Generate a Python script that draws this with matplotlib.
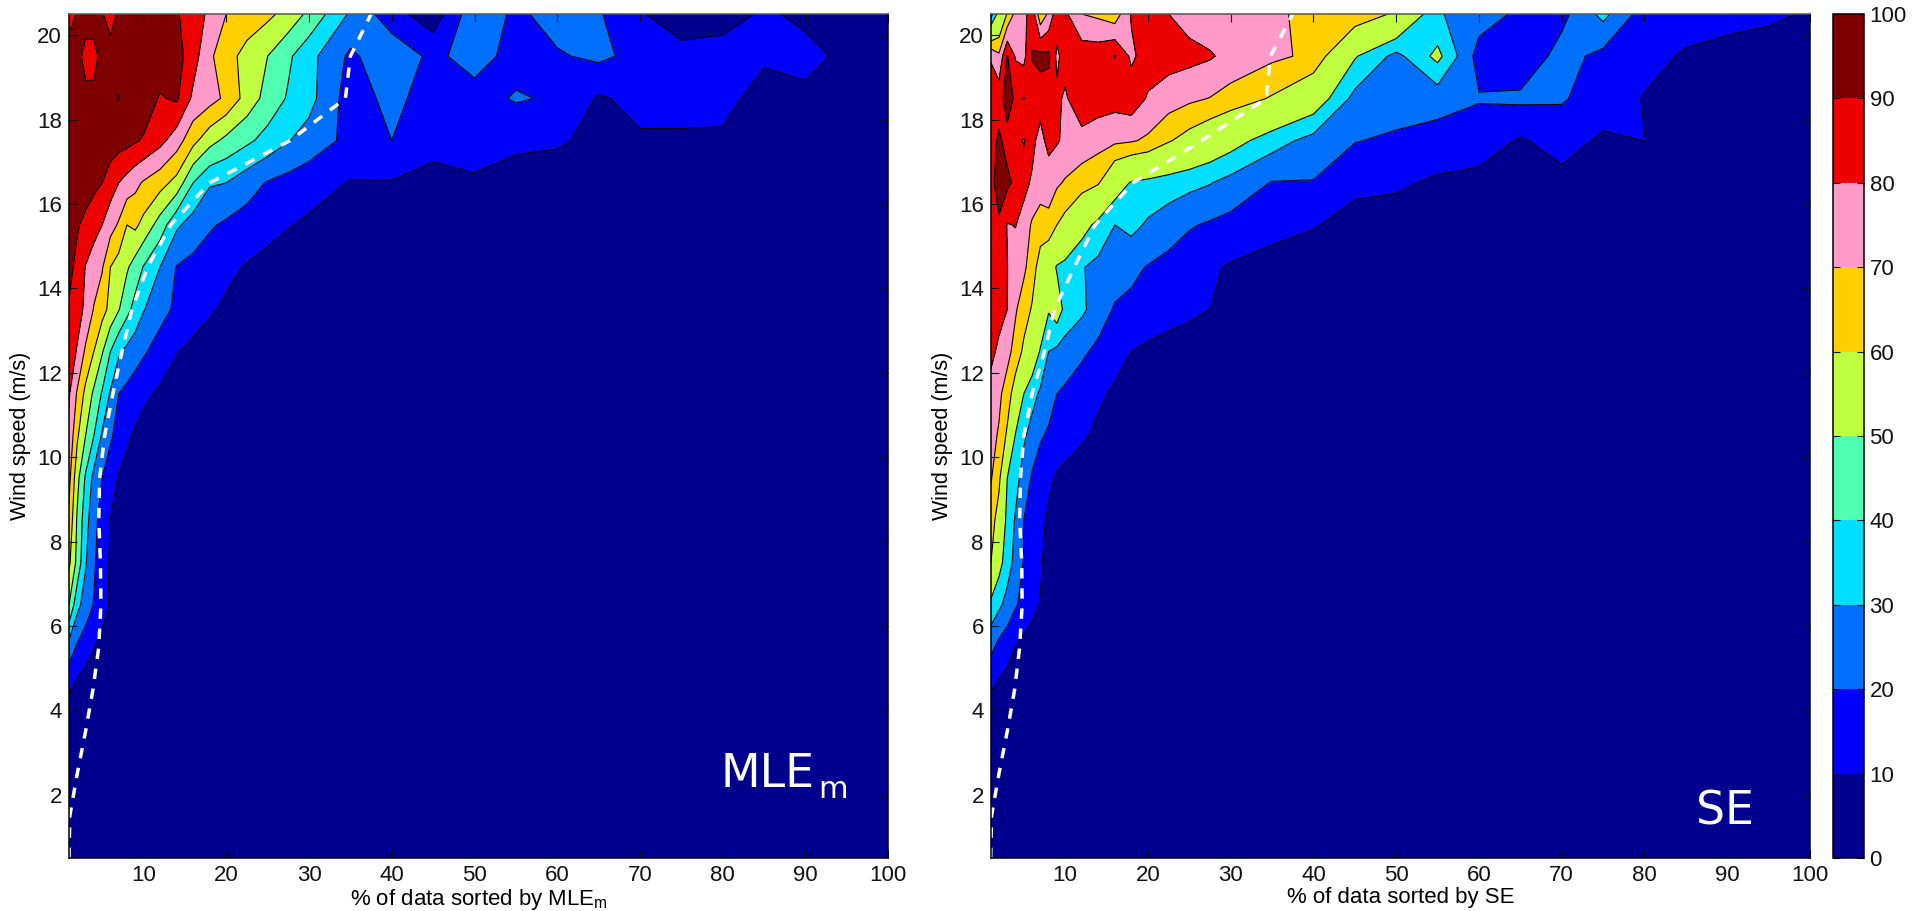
import numpy as np
import matplotlib
matplotlib.use('Agg')
import matplotlib.pyplot as plt
from matplotlib.colors import ListedColormap, BoundaryNorm
from matplotlib.cm import ScalarMappable

plt.rcParams['font.family'] = ['Liberation Sans', 'DejaVu Sans']
plt.rcParams['mathtext.fontset'] = 'custom'
plt.rcParams['mathtext.rm'] = 'Liberation Sans'

# % of data (columns) and wind speed (rows) of the two grids
pct = [1, 2, 3, 4, 5, 6, 7, 8, 9, 10, 12, 14, 16, 18, 20, 22.5, 25, 27.5, 30,
       35, 40, 45, 50, 55, 60, 65, 70, 75, 80, 85, 90, 95, 100]
wind = [0.5, 1.5, 2.5, 3.5, 4.5, 5.5, 6.5, 7.5, 8.5, 9.5, 10.5, 11.5, 12.5,
        13.5, 14.5, 15.5, 16.5, 17.5, 18.5, 19.5, 20.5]

# values, one row per wind speed
mle = [
    [5, 5, 5, 5, 5, 5, 5, 5, 5, 5, 5, 5, 5, 5, 5, 5, 5, 5, 5, 5, 5, 5, 5, 5, 5, 5, 5, 5, 5, 5, 5, 5, 5],
    [5, 5, 5, 5, 5, 5, 5, 5, 5, 5, 5, 5, 5, 5, 5, 5, 5, 5, 5, 5, 5, 5, 5, 5, 5, 5, 5, 5, 5, 5, 5, 5, 5],
    [5, 5, 5, 5, 5, 5, 5, 5, 5, 5, 5, 5, 5, 5, 5, 5, 5, 5, 5, 5, 5, 5, 5, 5, 5, 5, 5, 5, 5, 5, 5, 5, 5],
    [7, 5, 5, 5, 5, 5, 5, 5, 5, 5, 5, 5, 5, 5, 5, 5, 5, 5, 5, 5, 5, 5, 5, 5, 5, 5, 5, 5, 5, 5, 5, 5, 5],
    [11, 7, 5, 5, 5, 5, 5, 5, 5, 5, 5, 5, 5, 5, 5, 5, 5, 5, 5, 5, 5, 5, 5, 5, 5, 5, 5, 5, 5, 5, 5, 5, 5],
    [26, 18.6, 14.5, 10.4, 7, 5, 5, 5, 5, 5, 5, 5, 5, 5, 5, 5, 5, 5, 5, 5, 5, 5, 5, 5, 5, 5, 5, 5, 5, 5, 5, 5, 5],
    [50, 33, 25.6, 19.5, 14, 9, 6, 5, 5, 5, 5, 5, 5, 5, 5, 5, 5, 5, 5, 5, 5, 5, 5, 5, 5, 5, 5, 5, 5, 5, 5, 5, 5],
    [62, 47, 31, 21.4, 14.7, 9, 6, 5, 5, 5, 5, 5, 5, 5, 5, 5, 5, 5, 5, 5, 5, 5, 5, 5, 5, 5, 5, 5, 5, 5, 5, 5, 5],
    [68, 48.5, 34, 23.3, 15.8, 9.7, 6, 5, 5, 5, 5, 5, 5, 5, 5, 5, 5, 5, 5, 5, 5, 5, 5, 5, 5, 5, 5, 5, 5, 5, 5, 5, 5],
    [73, 53, 38.6, 27, 20, 14.4, 9.3, 6.5, 5, 5, 5, 5, 5, 5, 5, 5, 5, 5, 5, 5, 5, 5, 5, 5, 5, 5, 5, 5, 5, 5, 5, 5, 5],
    [78, 61.4, 50, 40, 28.6, 21.4, 16.4, 11.8, 8.5, 6.5, 5, 5, 5, 5, 5, 5, 5, 5, 5, 5, 5, 5, 5, 5, 5, 5, 5, 5, 5, 5, 5, 5, 5],
    [81, 68.75, 57.3, 48.2, 39, 29, 20, 17.4, 14.7, 12.1, 8.5, 6, 5, 5, 5, 5, 5, 5, 5, 5, 5, 5, 5, 5, 5, 5, 5, 5, 5, 5, 5, 5, 5],
    [86, 79, 68.3, 60, 51, 40, 31.7, 27.5, 24.4, 21.3, 15.8, 10.5, 7.5, 5.5, 5, 5, 5, 5, 5, 5, 5, 5, 5, 5, 5, 5, 5, 5, 5, 5, 5, 5, 5],
    [89, 84, 78, 69.4, 63.5, 57.3, 50.7, 43, 36.5, 30.6, 23.4, 18.2, 14.7, 11.2, 8.5, 6, 5, 5, 5, 5, 5, 5, 5, 5, 5, 5, 5, 5, 5, 5, 5, 5, 5],
    [93, 87, 79.6, 75, 71, 60, 55.6, 51.3, 45.6, 39.5, 30, 19.6, 17.1, 14.6, 12.1, 9.3, 7, 5, 5, 5, 5, 5, 5, 5, 5, 5, 5, 5, 5, 5, 5, 5, 5],
    [97, 91, 87.4, 83.7, 80, 73.9, 68.8, 60, 62, 57, 45.6, 31.7, 25.8, 21.2, 18.4, 15.8, 13.2, 10.5, 8.5, 5, 5, 5, 5, 5, 5, 5, 5, 5, 5, 5, 5, 5, 5],
    [99, 97, 95, 92.5, 90, 85, 80, 76.3, 72.6, 69, 63.9, 56.7, 40, 31, 30, 24.3, 19.3, 16.6, 13.9, 9.5, 9.4, 7, 8.5, 6, 6, 5, 5, 5, 5, 5, 5, 5, 5],
    [99, 98, 97, 97, 96, 95, 94, 93, 91, 89, 83, 74.7, 63, 53.5, 47.4, 42, 36.5, 30.5, 26, 17, 20, 13, 15, 12, 11, 8, 9, 9, 9, 6.5, 5, 5, 5],
    [97, 96, 91.5, 91.5, 96, 98, 100.3, 98, 97, 96, 89, 91.5, 78, 73.8, 68, 56, 46.3, 38.9, 33.3, 15, 23, 15, 15.8, 21, 18.6, 9, 12.5, 12.5, 12, 7.5, 8.5, 5, 5],
    [95, 92, 88, 88, 92, 96, 97, 98, 98, 98, 97, 94, 84.3, 71.8, 64, 56.4, 50, 41.7, 33.3, 18, 27, 17.5, 24.5, 16, 19, 22, 17, 13, 13, 11, 12, 8.5, 5],
    [86, 90.5, 93, 93, 91, 84, 92, 95, 96, 97, 95, 91, 85, 78, 70, 66, 62.3, 56.5, 47.7, 28.6, 14, 4, 27, 18, 24, 21, 10.8, 5, 7, 11, 8.5, 5, 5],
]

# values
se = [
    [5, 5, 5, 5, 5, 5, 5, 5, 5, 5, 5, 5, 5, 5, 5, 5, 5, 5, 5, 5, 5, 5, 5, 5, 5, 5, 5, 5, 5, 5, 5, 5, 5],
    [5, 5, 5, 5, 5, 5, 5, 5, 5, 5, 5, 5, 5, 5, 5, 5, 5, 5, 5, 5, 5, 5, 5, 5, 5, 5, 5, 5, 5, 5, 5, 5, 5],
    [5, 5, 5, 5, 5, 5, 5, 5, 5, 5, 5, 5, 5, 5, 5, 5, 5, 5, 5, 5, 5, 5, 5, 5, 5, 5, 5, 5, 5, 5, 5, 5, 5],
    [6, 5, 5, 5, 5, 5, 5, 5, 5, 5, 5, 5, 5, 5, 5, 5, 5, 5, 5, 5, 5, 5, 5, 5, 5, 5, 5, 5, 5, 5, 5, 5, 5],
    [10.5, 8, 6, 5, 5, 5, 5, 5, 5, 5, 5, 5, 5, 5, 5, 5, 5, 5, 5, 5, 5, 5, 5, 5, 5, 5, 5, 5, 5, 5, 5, 5, 5],
    [23, 17, 13.6, 10, 7, 5, 5, 5, 5, 5, 5, 5, 5, 5, 5, 5, 5, 5, 5, 5, 5, 5, 5, 5, 5, 5, 5, 5, 5, 5, 5, 5, 5],
    [37, 32, 26.7, 21, 17, 13.3, 9.6, 6.5, 5, 5, 5, 5, 5, 5, 5, 5, 5, 5, 5, 5, 5, 5, 5, 5, 5, 5, 5, 5, 5, 5, 5, 5, 5],
    [60.5, 44, 34.5, 27, 19.4, 15, 11, 7, 5, 5, 5, 5, 5, 5, 5, 5, 5, 5, 5, 5, 5, 5, 5, 5, 5, 5, 5, 5, 5, 5, 5, 5, 5],
    [66, 54, 36.4, 29, 20, 16, 12.3, 8.5, 6, 5, 5, 5, 5, 5, 5, 5, 5, 5, 5, 5, 5, 5, 5, 5, 5, 5, 5, 5, 5, 5, 5, 5, 5],
    [71, 63, 40, 33.3, 26, 18.8, 15, 12.2, 8.7, 7, 5, 5, 5, 5, 5, 5, 5, 5, 5, 5, 5, 5, 5, 5, 5, 5, 5, 5, 5, 5, 5, 5, 5],
    [73, 69, 58, 39, 31.5, 26, 21, 18.6, 16.8, 15, 11.4, 8, 6, 5, 5, 5, 5, 5, 5, 5, 5, 5, 5, 5, 5, 5, 5, 5, 5, 5, 5, 5, 5],
    [76, 72, 65.5, 54, 40, 33.7, 28.4, 24, 20, 18.3, 15, 11.7, 8.5, 6.5, 5, 5, 5, 5, 5, 5, 5, 5, 5, 5, 5, 5, 5, 5, 5, 5, 5, 5, 5],
    [83, 77.6, 73, 66.5, 57.7, 48.5, 39, 30, 27.9, 25.8, 21.7, 17.7, 13.9, 10, 8, 6, 5, 5, 5, 5, 5, 5, 5, 5, 5, 5, 5, 5, 5, 5, 5, 5, 5],
    [88, 84, 80, 71, 65, 59, 49.5, 41, 46, 37, 32, 25, 19, 18, 16.3, 14.2, 12.1, 10, 8.5, 5, 5, 5, 5, 5, 5, 5, 5, 5, 5, 5, 5, 5, 5],
    [89, 85, 80.2, 76, 72, 65, 55, 46, 39, 36.6, 30.6, 27.6, 24.9, 21.9, 19.5, 16.8, 14.1, 11.4, 9, 6, 5, 5, 5, 5, 5, 5, 5, 5, 5, 5, 5, 5, 5],
    [88, 89, 79.5, 80.3, 76, 68.6, 65.2, 68, 60, 56, 45, 36.7, 30, 33, 28.5, 24.8, 20.9, 18.8, 17, 13.6, 10.6, 7, 5.5, 5, 5, 5, 5, 5, 5, 5, 5, 5, 5],
    [88, 93, 92, 88, 83, 78.6, 75, 73, 71.5, 69, 65, 61, 46.7, 39, 37.2, 35, 32.8, 30.5, 26.5, 19.5, 19.5, 12, 11.5, 8.5, 7, 5, 7, 5, 5, 5, 5, 5, 5],
    [86, 91.5, 87, 83, 79.5, 83, 76, 84, 81, 78, 76, 74, 72, 71, 68.3, 61, 55.5, 50, 45, 34.3, 26.5, 20.5, 18, 16, 15, 9, 14, 8.5, 10.1, 7, 5, 5, 5],
    [83, 86, 94, 88.5, 90.3, 85, 85, 85, 82, 78.5, 88, 85, 84, 86, 79, 75, 72, 69.7, 66, 59, 48, 27, 26, 24, 20.7, 22, 21, 15, 9.5, 7, 5, 5, 5],
    [79.5, 72, 90.5, 79, 77, 90.5, 93, 92, 78, 84, 86, 86, 90.3, 78, 85, 84, 83, 81, 77, 72, 68, 41, 27, 43, 16, 12, 24, 17, 13, 9, 7, 5, 5],
    [25, 45, 61, 73, 76, 87, 62, 72, 86, 82, 70, 68, 64, 81, 87, 80, 76, 74, 73, 71, 68.5, 68, 58, 31, 24.7, 18, 17, 33, 15, 14, 13, 12, 9],
]

# white dashed curves, wind speed as read at each row
curve_mle = [1, 1.1, 2, 3, 3.9, 4.6, 4.85, 4.8, 4.6, 4.7, 5.3, 6.3, 7.4, 8.6, 10.5, 13.3, 18, 27.7, 34.4, 35, 37.5]
curve_se = [1, 1.1, 2, 3, 3.9, 4.5, 4.8, 4.75, 4.5, 4.6, 5, 6, 7.5, 8.7, 11.1, 13.6, 18.2, 26.5, 34.3, 34.8, 37.5]

levels = [0, 10, 20, 30, 40, 50, 60, 70, 80, 90, 100]
levels_se = [0, 10, 20, 30, 40, 60, 70, 80, 90, 100]  # the 40-50 band never shows on the right
colors = ['#00008f', '#0000ff', '#0070ff', '#00dfff', '#50ffaf',
          '#bfff40', '#ffcf00', '#ff99c8', '#ef0000', '#800000']
colors_se = colors[:4] + colors[5:]

W, H = 1921, 911
fig = plt.figure(figsize=(W / 100, H / 100), dpi=100)


def px_axes(x0, x1, y0=14, y1=858):
    return fig.add_axes([x0 / W, 1 - y1 / H, (x1 - x0) / W, (y1 - y0) / H])


def panel(ax, z, curve, lv, cols, xlabel):
    cols = cols + [cols[-1]]  # dots slightly above 100
    ax.contourf(pct, wind, np.array(z), levels=lv, colors=cols, extend='max')
    ax.contour(pct, wind, np.array(z), levels=lv[1:], colors='k', linewidths=0.8)
    ax.plot(curve, wind, color='white', lw=2.5, ls=(0, (3, 2.8)))
    ax.set_xlim(1, 100)
    ax.set_ylim(0.5, 20.5)
    ax.set_xticks(range(10, 101, 10))
    ax.set_yticks(range(2, 21, 2))
    ax.tick_params(direction='in', length=6, width=0.8, top=True, right=True,
                   labelsize=16, colors='#111111', pad=5)
    ax.set_xlabel(xlabel, fontsize=16, labelpad=0.5)
    ax.set_ylabel('Wind speed (m/s)', fontsize=15.5, labelpad=4.5)
    for s in ax.spines.values():
        s.set_linewidth(1.1)
    ax.spines['top'].set_color('#555555')


ax1 = px_axes(69, 888.3)
panel(ax1, mle, curve_mle, levels, colors, '% of data sorted by MLE$_{\\mathrm{m}}$')
ax1.text(79.7, 2.18, 'MLE', color='white', fontsize=33, family='DejaVu Sans', va='baseline')
ax1.text(91.5, 1.92, 'm', color='white', fontsize=22, family='DejaVu Sans', va='baseline')

ax2 = px_axes(990.7, 1810)
panel(ax2, se, curve_se, levels_se, colors_se, '% of data sorted by SE')
ax2.text(86.2, 1.3, 'SE', color='white', fontsize=33, family='DejaVu Sans', va='baseline')

# colour bar with one block per 10 %
cax = px_axes(1833, 1864)
sm = ScalarMappable(norm=BoundaryNorm(levels, 10), cmap=ListedColormap(colors))
cb = fig.colorbar(sm, cax=cax, ticks=levels, spacing='proportional')
cb.ax.tick_params(direction='in', length=5, width=0.8, left=True, right=True,
                  labelsize=16, colors='#111111', pad=4)
cb.outline.set_linewidth(1.1)

fig.savefig('out.png', dpi=100)
